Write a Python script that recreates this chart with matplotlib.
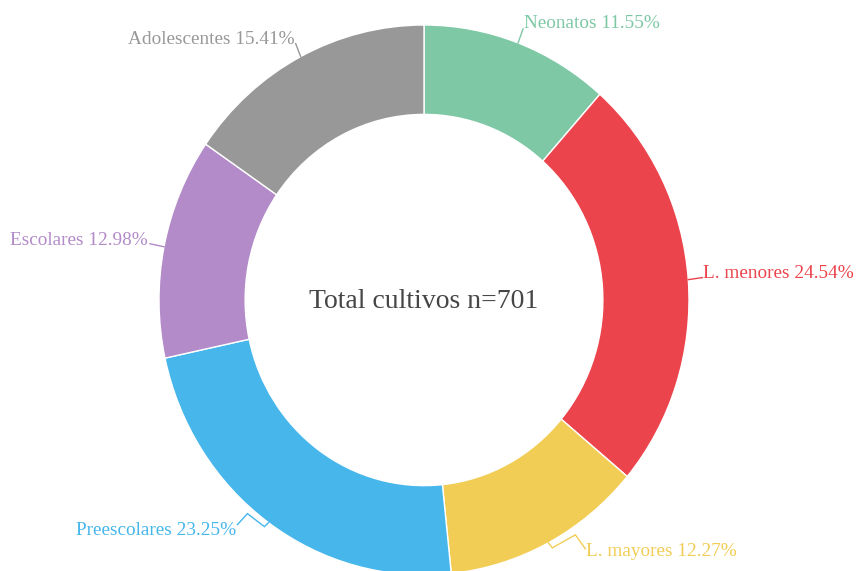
import numpy as np
import matplotlib
matplotlib.use('Agg')
import matplotlib.pyplot as plt

# Culture counts share by age group
groups = ['Neonatos', 'L. menores', 'L. mayores', 'Preescolares', 'Escolares', 'Adolescentes']
shares = [11.55, 24.54, 12.27, 23.25, 12.98, 15.41]
colors = ['#7ec8a5', '#ec444c', '#f2cd56', '#46b6eb', '#b28bc8', '#989898']
total = 701

plt.rcParams['font.family'] = ['Liberation Serif', 'DejaVu Serif']

W, H = 856, 571
cx, cy = 424, 300      # ring centre in pixels
rx, ry = 265, 275      # outer radius in pixels (horizontal / vertical)

fig = plt.figure(figsize=(W / 100, H / 100), dpi=100)
ax = fig.add_axes([0, 0, 1, 1])

wedges, _ = ax.pie(shares, colors=colors, startangle=90, counterclock=False,
                   radius=1, wedgeprops=dict(width=0.325, edgecolor='white', linewidth=1))
ax.set_aspect('auto')
ax.set_xlim(-cx / rx, (W - cx) / rx)
ax.set_ylim(-(H - cy) / ry, cy / ry)
ax.axis('off')


def to_data(px, py):
    return (px - cx) / rx, (cy - py) / ry


# leader line bends (pixel offsets from the ring edge) and label anchor offsets
bends = [
    [(5, -14)],
    [(14, -2)],
    [(4, 5), (27, -8), (37, 6)],
    [(-4, 4), (-21, -9), (-31, 2)],
    [(-14, -3)],
    [(-5, -13)],
]
text_off = [(1, -5), (1, -4), (1, 3), (-1, 6), (-2, -3), (-1, -4)]

cum = np.cumsum([0] + shares)
for i, w in enumerate(wedges):
    mid = np.deg2rad((cum[i] + shares[i] / 2) / 100 * 360)
    sx = cx + rx * np.sin(mid)
    sy = cy - ry * np.cos(mid)
    pts = [(sx, sy)] + [(sx + dx, sy + dy) for dx, dy in bends[i]]
    xs, ys = zip(*[to_data(px, py) for px, py in pts])
    ax.plot(xs, ys, color=colors[i], lw=1, solid_joinstyle='miter')
    ex, ey = pts[-1]
    tx, ty = to_data(ex + text_off[i][0], ey + text_off[i][1])
    ha = 'left' if np.sin(mid) > 0 else 'right'
    ax.text(tx, ty, f'{groups[i]} {shares[i]:.2f}%', color=colors[i],
            fontsize=13.9, ha=ha, va='center')

ax.text(0, to_data(cx, 302)[1], f'Total cultivos n={total}', fontsize=20,
        color='#464646', ha='center', va='center')

fig.savefig('out.png', dpi=100)
